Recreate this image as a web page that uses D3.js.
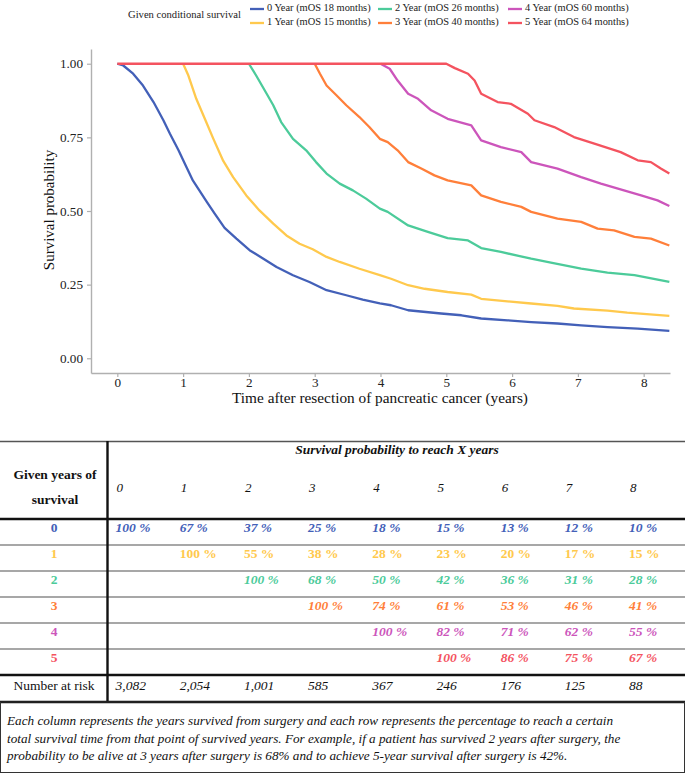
<!DOCTYPE html>
<html>
<head>
<meta charset="utf-8">
<script src="https://cdn.jsdelivr.net/npm/d3@7"></script>
<style>
html,body{margin:0;padding:0;background:#fff;}
svg{display:block;font-family:"Liberation Serif","Times New Roman",serif;}
</style>
</head>
<body>
<svg id="chart" width="685" height="773"></svg>
<script>
// ---------- data ----------
const seriesLabels = ["0 Year (mOS 18 months)","1 Year (mOS 15 months)","2 Year (mOS 26 months)","3 Year (mOS 40 months)","4 Year (mOS 60 months)","5 Year (mOS 64 months)"];
const seriesColors = ["#4360b8","#ffc94d","#4ccb9a","#ff7f3a","#cc55bb","#f4535f"];

const t0 = [0,0.09,0.24,0.39,0.55,0.70,0.80,0.93,1.05,1.15,1.36,1.48,1.63,1.81,2.01,2.22,2.42,2.67,2.92,3.18,3.48,3.73,3.99,4.16,4.42,4.92,5.23,5.53,5.93,6.29,6.69,7.05,7.45,7.91,8.39];
const s0 = [1,0.994,0.966,0.926,0.870,0.808,0.762,0.706,0.649,0.603,0.531,0.491,0.443,0.406,0.367,0.338,0.310,0.282,0.259,0.231,0.214,0.199,0.186,0.180,0.163,0.152,0.146,0.135,0.129,0.123,0.118,0.112,0.106,0.101,0.093];
const t1 = [1.0,1.08,1.20,1.33,1.46,1.61,1.76,1.96,2.16,2.37,2.57,2.77,2.97,3.18,3.38,3.68,3.99,4.16,4.42,4.67,5.02,5.38,5.53,5.93,6.29,6.69,6.94,7.45,7.75,8.39];
const s1 = [1,0.960,0.881,0.813,0.745,0.670,0.615,0.553,0.502,0.457,0.417,0.389,0.370,0.344,0.327,0.304,0.282,0.270,0.248,0.236,0.225,0.216,0.202,0.193,0.186,0.178,0.169,0.162,0.155,0.144];
const t2 = [2.0,2.11,2.27,2.37,2.49,2.67,2.87,3.02,3.18,3.38,3.58,3.78,3.99,4.11,4.42,4.72,5.02,5.33,5.53,5.83,6.29,6.59,7.05,7.45,7.86,8.39];
const s2 = [1,0.960,0.898,0.859,0.802,0.745,0.706,0.666,0.627,0.593,0.570,0.542,0.508,0.497,0.451,0.429,0.408,0.400,0.374,0.361,0.338,0.325,0.304,0.291,0.282,0.259];
const t3 = [3.0,3.08,3.18,3.33,3.48,3.68,3.83,3.99,4.11,4.26,4.42,4.62,4.82,5.02,5.38,5.53,5.83,6.14,6.29,6.69,7.05,7.30,7.55,7.86,8.11,8.39];
const s3 = [1,0.966,0.926,0.893,0.859,0.819,0.785,0.745,0.734,0.706,0.666,0.644,0.621,0.604,0.587,0.553,0.531,0.514,0.497,0.474,0.463,0.440,0.434,0.412,0.406,0.383];
const t4 = [4.0,4.14,4.26,4.42,4.57,4.77,5.02,5.38,5.53,5.83,6.14,6.29,6.69,7.05,7.35,7.70,7.96,8.21,8.39];
const s4 = [1,0.983,0.943,0.898,0.881,0.842,0.813,0.791,0.740,0.717,0.700,0.666,0.644,0.615,0.593,0.570,0.553,0.536,0.517];
const t5 = [0,5.0,5.13,5.33,5.43,5.53,5.78,5.98,6.24,6.34,6.64,6.94,7.25,7.65,7.91,8.11,8.26,8.39];
const s5 = [1,1,0.985,0.966,0.943,0.898,0.870,0.864,0.830,0.808,0.785,0.751,0.729,0.700,0.672,0.666,0.644,0.627];
const seriesTimes = [t0,t1,t2,t3,t4,t5];
const seriesSurv = [s0,s1,s2,s3,s4,s5];

const xTicks = [0,1,2,3,4,5,6,7,8];
const yTicks = [0,0.25,0.5,0.75,1];

const tableYears = ["0","1","2","3","4","5","6","7","8"];
const givenYears = ["0","1","2","3","4","5"];
const tableValues = [
  [100,67,37,25,18,15,13,12,10],
  [null,100,55,38,28,23,20,17,15],
  [null,null,100,68,50,42,36,31,28],
  [null,null,null,100,74,61,53,46,41],
  [null,null,null,null,100,82,71,62,55],
  [null,null,null,null,null,100,86,75,67]
];
const atRisk = ["3,082","2,054","1,001","585","367","246","176","125","88"];
const noteLines = [
  "Each column represents the years survived from surgery and each row represents the percentage to reach a certain",
  "total survival time from that point of survived years. For example, if a patient has survived 2 years after surgery, the",
  "probability to be alive at 3 years after surgery is 68% and to achieve 5-year survival after surgery is 42%."
];

// ---------- chart ----------
const svg = d3.select("#chart");
const x = d3.scaleLinear().domain([-0.4, 8.4]).range([91, 670]);
const y = d3.scaleLinear().domain([-0.05, 1.05]).range([373, 49]);
const axisCol = "#b0b0b0";

const gx = svg.append("g").attr("transform","translate(0,373)")
  .call(d3.axisBottom(x).tickValues(xTicks).tickSize(4).tickPadding(1).tickSizeOuter(0).tickFormat(d3.format("d")));
const gy = svg.append("g").attr("transform","translate(91,0)")
  .call(d3.axisLeft(y).tickValues(yTicks).tickSize(4).tickPadding(4).tickSizeOuter(0).tickFormat(d3.format(".2f")));
[gx,gy].forEach(g=>{
  g.select(".domain").attr("stroke",axisCol).attr("stroke-width",1.4);
  g.selectAll(".tick line").attr("stroke",axisCol).attr("stroke-width",1.2);
  g.selectAll(".tick text").attr("fill","#222").attr("font-size",13.2)
   .attr("font-family","'Liberation Serif','Times New Roman',serif");
});

svg.append("text").attr("x",380).attr("y",403).attr("text-anchor","middle")
  .attr("font-size",15.3).attr("fill","#111").text("Time after resection of pancreatic cancer (years)");
svg.append("text").attr("transform","translate(54,210) rotate(-90)").attr("text-anchor","middle")
  .attr("font-size",15).attr("fill","#111").text("Survival probability");

const line = d3.line().x(d=>x(d[0])).y(d=>y(d[1])).curve(d3.curveLinear);
seriesTimes.forEach((ts,i)=>{
  const pts = ts.map((t,j)=>[t, seriesSurv[i][j]]);
  svg.append("path").datum(pts).attr("d",line).attr("fill","none")
    .attr("stroke",seriesColors[i]).attr("stroke-width",2.3).attr("stroke-linejoin","round");
});

// legend
svg.append("text").attr("x",241).attr("y",16).attr("text-anchor","end")
  .attr("font-size",10.6).attr("fill","#222").attr("dominant-baseline","middle").text("Given conditional survival");
const legCols = [250, 378, 508];
seriesLabels.forEach((lab,i)=>{
  const col = Math.floor(i/2), row = i%2;
  const lx = legCols[col], ly = 9 + row*14;
  svg.append("line").attr("x1",lx).attr("x2",lx+14).attr("y1",ly).attr("y2",ly)
    .attr("stroke",seriesColors[i]).attr("stroke-width",2.3);
  svg.append("text").attr("x",lx+17).attr("y",ly).attr("dominant-baseline","middle")
    .attr("font-size",10.4).attr("fill","#222").text(lab);
});

// ---------- table ----------
const colX = d3.scaleLinear().domain([0,8]).range([115.5, 629]);
const tbl = svg.append("g");
const rowTop = 519, rowH = 26;

tbl.append("line").attr("x1",0).attr("x2",685).attr("y1",441.5).attr("y2",441.5).attr("stroke","#555").attr("stroke-width",1.3);
for(let r=1;r<6;r++){
  tbl.append("line").attr("x1",0).attr("x2",685).attr("y1",rowTop+r*rowH).attr("y2",rowTop+r*rowH)
    .attr("stroke","#8a8a8a").attr("stroke-width",1.6);
}
[rowTop, rowTop+6*rowH, 702].forEach(yy=>{
  tbl.append("line").attr("x1",0).attr("x2",685).attr("y1",yy).attr("y2",yy).attr("stroke","#111").attr("stroke-width",2.4);
});
tbl.append("line").attr("x1",107.5).attr("x2",107.5).attr("y1",441).attr("y2",702).attr("stroke","#111").attr("stroke-width",2.4);

tbl.append("text").attr("x",397).attr("y",451).attr("text-anchor","middle").attr("dominant-baseline","middle")
  .attr("font-size",13.5).attr("font-weight","bold").attr("font-style","italic").attr("fill","#111")
  .text("Survival probability to reach X years");
tbl.append("text").attr("x",55).attr("y",476).attr("text-anchor","middle").attr("dominant-baseline","middle")
  .attr("font-size",13.5).attr("font-weight","bold").attr("fill","#111").text("Given years of");
tbl.append("text").attr("x",55).attr("y",501).attr("text-anchor","middle").attr("dominant-baseline","middle")
  .attr("font-size",13.5).attr("font-weight","bold").attr("fill","#111").text("survival");
tableYears.forEach((yr,i)=>{
  tbl.append("text").attr("x",colX(i)+1).attr("y",489).attr("dominant-baseline","middle")
    .attr("font-size",13).attr("font-style","italic").attr("fill","#111").text(yr);
});

givenYears.forEach((g,r)=>{
  const cy = rowTop + r*rowH + rowH/2 - 3;
  tbl.append("text").attr("x",54).attr("y",cy).attr("text-anchor","middle").attr("dominant-baseline","middle")
    .attr("font-size",13.5).attr("font-weight","bold").attr("fill",seriesColors[r]).text(g);
  tableValues[r].forEach((v,c)=>{
    if(v===null) return;
    tbl.append("text").attr("x",colX(c)).attr("y",cy).attr("dominant-baseline","middle")
      .attr("font-size",13.5).attr("font-weight","bold").attr("font-style", r===1?"normal":"italic")
      .attr("fill",seriesColors[r]).text(v+" %");
  });
});
const nrY = rowTop + 6*rowH + 12;
tbl.append("text").attr("x",54).attr("y",nrY).attr("text-anchor","middle").attr("dominant-baseline","middle")
  .attr("font-size",13.5).attr("fill","#111").text("Number at risk");
atRisk.forEach((v,c)=>{
  tbl.append("text").attr("x",colX(c)).attr("y",nrY).attr("dominant-baseline","middle")
    .attr("font-size",13.5).attr("font-style","italic").attr("fill","#111").text(v);
});

tbl.append("rect").attr("x",0.5).attr("y",702).attr("width",684).attr("height",70.5)
  .attr("fill","none").attr("stroke","#333").attr("stroke-width",1);
noteLines.forEach((l,i)=>{
  tbl.append("text").attr("x",7).attr("y",722 + i*17.5).attr("dominant-baseline","middle")
    .attr("font-size",13.2).attr("font-style","italic").attr("fill","#111").text(l);
});
</script>
</body>
</html>
